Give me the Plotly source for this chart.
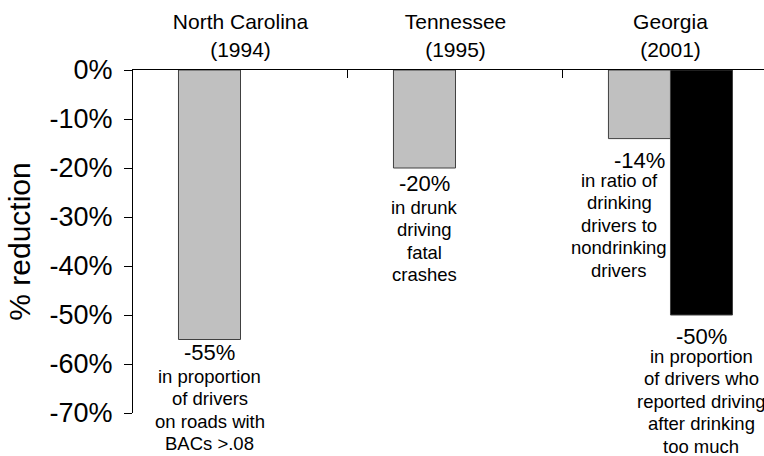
import plotly.graph_objects as go

# ---- data ----
states = ["North Carolina<br>(1994)", "Tennessee<br>(1995)", "Georgia<br>(2001)"]
grey_values = [-55, -20, -14]
black_values = [None, None, -50]

grey_notes = [
    ["in proportion", "of drivers", "on roads with", "BACs >.08"],
    ["in drunk", "driving", "fatal", "crashes"],
    ["in ratio of", "drinking", "drivers to", "nondrinking", "drivers"],
]
black_notes = [None, None,
               ["in proportion", "of drivers who", "reported driving",
                "after drinking", "too much"]]

y_ticks = [0, -10, -20, -30, -40, -50, -60, -70]
y_ticktext = [f"{v}%" for v in y_ticks]

FONT = "Arial, Liberation Sans, sans-serif"

fig = go.Figure()
fig.add_trace(go.Bar(
    x=states, y=grey_values,
    marker=dict(color="#c0c0c0", line=dict(color="#404040", width=1)),
    showlegend=False, hoverinfo="skip"
))
fig.add_trace(go.Bar(
    x=states, y=black_values,
    marker=dict(color="black", line=dict(color="#404040", width=1)),
    showlegend=False, hoverinfo="skip"
))

# label placement tweaks (pixels): series shift, gap below bar, body x nudge
bar_half = 31
line_step = 22.5
pct_gap = [12.5, 15, 21.5]
body_gap = [36.5, 39, 41.5]
body_dx = [0, 0, -20]


def add_label(x, y, note, dx, gap_pct, gap_body, bdx):
    fig.add_annotation(x=x, y=y, text=f"{y}%", showarrow=False,
                       xshift=dx, yshift=-gap_pct, yanchor="middle",
                       font=dict(size=22, color="black", family=FONT))
    for k, line in enumerate(note):
        fig.add_annotation(x=x, y=y, text=line, showarrow=False,
                           xshift=dx + bdx, yshift=-(gap_body + k * line_step),
                           yanchor="middle",
                           font=dict(size=18.5, color="black", family=FONT))


for i, s in enumerate(states):
    add_label(s, grey_values[i], grey_notes[i], -bar_half,
              pct_gap[i], body_gap[i], body_dx[i])
    if black_values[i] is not None:
        add_label(s, black_values[i], black_notes[i], bar_half, 21, 41, 0)

fig.update_layout(
    width=764, height=456,
    margin=dict(l=133, r=0, t=70, b=43),
    paper_bgcolor="white", plot_bgcolor="white",
    barmode="group", bargap=0.423, bargroupgap=0,
    font=dict(family=FONT, color="black"),
    xaxis=dict(
        side="top", range=[-0.5, 2.435], automargin=False,
        showline=True, linecolor="black", linewidth=1,
        ticks="inside", ticklen=8, tickcolor="black", tickson="boundaries",
        showgrid=False, zeroline=False,
        tickfont=dict(size=21, family=FONT, color="black"),
        ticklabelstandoff=4,
    ),
    yaxis=dict(
        range=[-70, 0], automargin=False,
        tickvals=y_ticks, ticktext=y_ticktext,
        showline=True, linecolor="black", linewidth=1,
        ticks="outside", ticklen=8, tickcolor="black",
        showgrid=False, zeroline=False,
        tickfont=dict(size=27, family=FONT, color="black"),
        ticklabelstandoff=6,
        title=dict(text="% reduction", font=dict(size=30, family=FONT, color="black"),
                   standoff=10),
    ),
)

# drop the page's default body margin so the figure sits at the window corner
fig.write_html("out.html", config={"displayModeBar": False},
               post_script="document.body.style.margin='0';")
